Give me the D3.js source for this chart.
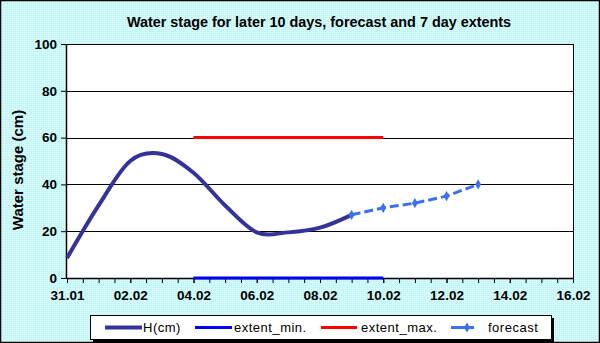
<!DOCTYPE html>
<html>
<head>
<meta charset="utf-8">
<script src="https://cdn.jsdelivr.net/npm/d3@7"></script>
<style>
body{margin:0;padding:0;background:#fff}
svg{display:block;font-family:"Liberation Sans",Arial,sans-serif}
</style>
</head>
<body>
<script>
var WIDTH=600,HEIGHT=343,
	margin={top:44,left:67,right:27,bottom:65}

// observed water stage
var hDays=["31.01","01.02","02.02","03.02","04.02","05.02","06.02","07.02","08.02","09.02"],
	hValues=[8.5,31,50,53,45,31,19.5,19.5,21.5,27]

// 7 day extents
var extDays=["04.02","10.02"],
	extMin=[0,0],
	extMax=[60,60]

// forecast
var fcDays=["09.02","10.02","11.02","12.02","13.02"],
	fcValues=[27,30,32,35,40]

var xTickLabels=["31.01","02.02","04.02","06.02","08.02","10.02","12.02","14.02","16.02"],
	yTicks=[0,20,40,60,80,100]

var parse=d3.timeParse("%d.%m.%Y")
function toDate(s){
	return parse(s+".2011")
}

var svg=d3.select('body').append('svg')
	.attr('width',WIDTH).attr('height',HEIGHT)

var defs=svg.append('defs')
var pat=defs.append('pattern').attr('id','dots')
	.attr('width',2).attr('height',2).attr('patternUnits','userSpaceOnUse')
pat.append('rect').attr('width',2).attr('height',2).attr('fill','#c4f6f6')
pat.append('rect').attr('width',1).attr('height',1).attr('fill','#e6ffff')

svg.append('rect')
	.attr('x',0.5).attr('y',0.5).attr('width',WIDTH-1).attr('height',HEIGHT-1)
	.attr('fill','url(#dots)').attr('stroke','#000').attr('stroke-width',1.5)

var w=WIDTH-margin.left-margin.right,
	h=HEIGHT-margin.top-margin.bottom

var xScale=d3.scaleTime()
	.domain([toDate(xTickLabels[0]),toDate(xTickLabels[xTickLabels.length-1])])
	.range([0,w])
var yScale=d3.scaleLinear().domain([0,100]).range([h,0])

var g=svg.append('g').attr('transform','translate('+margin.left+','+margin.top+')')

g.append('rect').attr('width',w).attr('height',h).attr('fill','#fff')

// grid
g.selectAll('.grid').data(yTicks.slice(1)).enter().append('line')
	.attr('x1',0).attr('x2',w)
	.attr('y1',function(d){return Math.round(yScale(d))+0.5})
	.attr('y2',function(d){return Math.round(yScale(d))+0.5})
	.attr('stroke','#000').attr('stroke-width',1)
g.append('line').attr('x1',w+0.5).attr('x2',w+0.5).attr('y1',0).attr('y2',h)
	.attr('stroke','#000')

// axes
var xMinor=d3.axisBottom(xScale)
	.ticks(d3.timeHour.every(12))
	.tickSize(5).tickFormat('')
g.append('g').attr('transform','translate(0,'+h+')').call(xMinor)
	.call(function(s){s.select('.domain').remove()})

var xAxis=d3.axisBottom(xScale)
	.tickValues(xTickLabels.map(toDate))
	.tickSize(5).tickPadding(7)
	.tickFormat(d3.timeFormat('%d.%m'))
var xg=g.append('g').attr('transform','translate(0,'+h+')').call(xAxis)
xg.select('.domain').attr('d','M0,0.5H'+w)

var yAxis=d3.axisLeft(yScale).tickValues(yTicks).tickSize(6).tickPadding(4)
var yg=g.append('g').call(yAxis)
yg.select('.domain').attr('d','M-0.5,0V'+h)

svg.selectAll('.tick text').attr('font-size','13.5px').attr('font-weight','bold')
	.attr('fill','#000').attr('font-family','"Liberation Sans",Arial,sans-serif')
svg.selectAll('.tick line').attr('stroke','#000')
svg.selectAll('.domain').attr('stroke','#000').attr('stroke-width',1.5)

// series
var hData=hDays.map(function(d,i){return {date:toDate(d),v:hValues[i]}}),
	fcData=fcDays.map(function(d,i){return {date:toDate(d),v:fcValues[i]}})

var smooth=d3.line().curve(d3.curveCardinal.tension(0))
	.x(function(d){return xScale(d.date)}).y(function(d){return yScale(d.v)})
var straight=d3.line()
	.x(function(d){return xScale(d.date)}).y(function(d){return yScale(d.v)})

g.append('path').datum(extDays.map(function(d,i){return {date:toDate(d),v:extMin[i]}}))
	.attr('d',straight).attr('fill','none').attr('stroke','#0000ff').attr('stroke-width',3)
g.append('path').datum(extDays.map(function(d,i){return {date:toDate(d),v:extMax[i]}}))
	.attr('d',straight).attr('fill','none').attr('stroke','#ff0000').attr('stroke-width',3)

g.append('path').datum(hData)
	.attr('d',smooth).attr('fill','none').attr('stroke','#333399').attr('stroke-width',4)

g.append('path').datum(fcData)
	.attr('d',straight).attr('fill','none').attr('stroke','#3d6ff2')
	.attr('stroke-width',3).attr('stroke-dasharray','9,4')

var diamond=d3.symbol().type(d3.symbolDiamond).size(30)
g.selectAll('.fc').data(fcData).enter().append('path')
	.attr('d',diamond)
	.attr('transform',function(d){return 'translate('+xScale(d.date)+','+yScale(d.v)+')'})
	.attr('fill','#3d6ff2')

// title and axis label
svg.append('text').text('Water stage for later 10 days, forecast and 7 day  extents')
	.attr('x',319).attr('y',27).attr('text-anchor','middle')
	.attr('font-size','14.4px').attr('font-weight','bold')
svg.append('text').text('Water stage (cm)')
	.attr('transform','translate(23,170) rotate(-90)').attr('text-anchor','middle')
	.attr('font-size','15px').attr('font-weight','bold')

// legend
var legendItems=[
	{name:'H(cm)',color:'#333399',x1:105,x2:142,tx:143,sw:4},
	{name:'extent_min.',color:'#0000ff',x1:195,x2:232,tx:234,sw:3},
	{name:'extent_max.',color:'#ff0000',x1:321,x2:357,tx:361,sw:3},
	{name:'forecast',color:'#3d6ff2',x1:451,x2:474,tx:488,sw:3,marker:true}
]
svg.append('rect').attr('x',93).attr('y',318).attr('width',461).attr('height',24).attr('fill','#000')
svg.append('rect').attr('x',90.5).attr('y',315.5).attr('width',461).attr('height',24)
	.attr('fill','#fff').attr('stroke','#000')
var lg=svg.selectAll('.leg').data(legendItems).enter().append('g')
lg.append('line').attr('x1',function(d){return d.x1}).attr('x2',function(d){return d.x2})
	.attr('y1',327.5).attr('y2',327.5)
	.attr('stroke',function(d){return d.color}).attr('stroke-width',function(d){return d.sw})
lg.filter(function(d){return d.marker}).append('path')
	.attr('d',diamond).attr('transform','translate(467,327.5)').attr('fill','#3d6ff2')
lg.append('text').text(function(d){return d.name})
	.attr('x',function(d){return d.tx}).attr('y',332)
	.attr('font-size','13px').attr('letter-spacing','0.5px')
</script>
</body>
</html>
